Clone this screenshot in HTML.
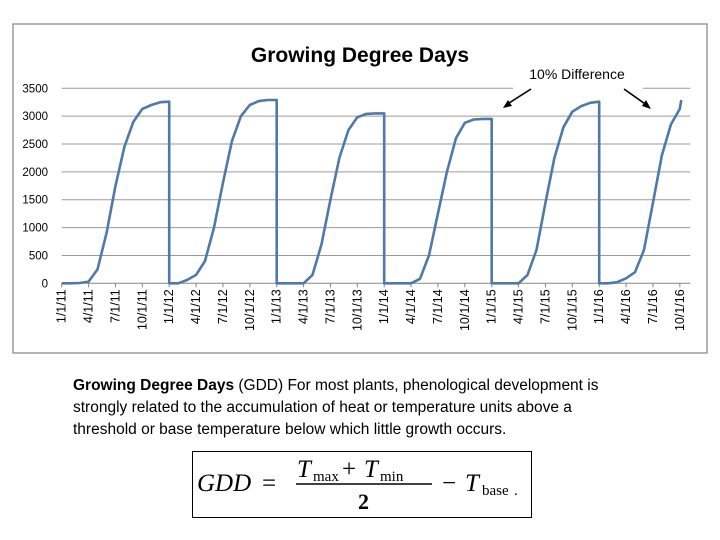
<!DOCTYPE html>
<html><head><meta charset="utf-8"><style>
html,body{margin:0;padding:0;background:#fff;}
body{width:720px;height:540px;position:relative;overflow:hidden;font-family:"Liberation Sans",sans-serif;}
#desc{position:absolute;left:73px;top:375px;width:640px;font-size:15.5px;line-height:22px;color:#000;white-space:nowrap;}
</style></head><body>
<svg id="chart" width="720" height="370" style="position:absolute;left:0;top:0" xmlns="http://www.w3.org/2000/svg">
<rect x="13" y="24" width="694" height="329" fill="#fff" stroke="#8c8c8c" stroke-width="1.3"/>
<text x="360" y="62" text-anchor="middle" font-family="Liberation Sans,sans-serif" font-weight="bold" font-size="21" fill="#000">Growing Degree Days</text>
<g id="grid"></g><g id="yt"></g><g id="xt"></g>
<path id="line" fill="none" stroke="#4f79a8" stroke-width="2.6" stroke-linejoin="round"/>
<rect x="513" y="82" width="130" height="12" fill="#fff"/>
<text x="577" y="79" text-anchor="middle" font-family="Liberation Sans,sans-serif" font-size="14" fill="#000">10% Difference</text>
<line x1="531" y1="89" x2="506" y2="105" stroke="#000" stroke-width="1.6"/>
<polygon points="503,108 508,100 512,106" fill="#000"/>
<line x1="624" y1="89" x2="648" y2="106" stroke="#000" stroke-width="1.6"/>
<polygon points="651,109 642,106 646,100" fill="#000"/>
</svg>
<div id="desc"><b>Growing Degree Days</b> (GDD) For most plants, phenological development is<br>strongly related to the accumulation of heat or temperature units above a<br>threshold or base temperature below which little growth occurs.</div>
<svg width="340" height="68" style="position:absolute;left:192px;top:451px" xmlns="http://www.w3.org/2000/svg" font-family="Liberation Serif,serif">
<rect x="0.5" y="0.5" width="339" height="66" fill="#fff" stroke="#000"/>
<text x="5" y="40" font-size="25" font-style="italic">GDD</text>
<text x="70" y="40" font-size="25">=</text>
<text x="105" y="26" font-size="25" font-style="italic">T</text><text x="121" y="30" font-size="15">max</text>
<text x="150" y="26" font-size="25">+</text>
<text x="172" y="26" font-size="25" font-style="italic">T</text><text x="188" y="30" font-size="15">min</text>
<line x1="104" y1="33" x2="240" y2="33" stroke="#000" stroke-width="1.5"/>
<text x="166" y="58" font-size="22" font-weight="bold">2</text>
<text x="250" y="40" font-size="25">−</text>
<text x="273" y="40" font-size="25" font-style="italic">T</text><text x="290" y="44" font-size="15">base</text>
<text x="322" y="44" font-size="15">.</text>
</svg>
<script>
const years=[2011,2012,2013,2014,2015,2016];
const gdd2011=[0,0,5,30,250,900,1750,2450,2900,3130,3200,3250,3260];
const gdd2012=[0,0,60,150,400,1000,1800,2550,3000,3200,3270,3290,3290];
const gdd2013=[0,0,0,0,150,700,1500,2250,2750,2980,3040,3050,3050];
const gdd2014=[0,0,0,0,80,500,1250,2000,2600,2880,2940,2950,2950];
const gdd2015=[0,0,0,0,150,600,1450,2250,2800,3080,3180,3240,3260];
const gdd2016=[0,0,20,90,200,600,1450,2300,2850,3130,3290];
const yTicks=[0,500,1000,1500,2000,2500,3000,3500];
const xLabels=["1/1/11","4/1/11","7/1/11","10/1/11","1/1/12","4/1/12","7/1/12","10/1/12","1/1/13","4/1/13","7/1/13","10/1/13","1/1/14","4/1/14","7/1/14","10/1/14","1/1/15","4/1/15","7/1/15","10/1/15","1/1/16","4/1/16","7/1/16","10/1/16"];
const X0=61.7,YW=107.5,Y0=283.3,YH=195;
const xs=t=>X0+t*YW, ys=v=>Y0-v/3500*YH;
const NS="http://www.w3.org/2000/svg";
const mk=(p,tag,a)=>{const e=document.createElementNS(NS,tag);for(const k in a)e.setAttribute(k,a[k]);document.getElementById(p).appendChild(e);return e;};
const xEnd=xs(5+10/12+5/365);
yTicks.forEach(v=>{
 const g=mk('grid','line',{x1:X0,x2:xEnd,y1:ys(v),y2:ys(v),stroke:v===0?'#868686':'#9a9a9a','stroke-width':1});
 
 
 const t=mk('yt','text',{x:48,y:ys(v)+4,'text-anchor':'end','font-size':11.5,'font-family':'Liberation Sans,sans-serif'});
 t.textContent=v;
 
 
});
xLabels.forEach((l,i)=>{
 const x=xs(i/4);
 const tk=mk('xt','line',{x1:x,x2:x,y1:Y0,y2:Y0+4,stroke:'#868686'});
 
 
 const t=mk('xt','text',{x:0,y:0,'text-anchor':'end','font-size':12.5,'font-family':'Liberation Sans,sans-serif',transform:`translate(${x+4},${Y0+6}) rotate(-90)`});
 t.textContent=l;
 
 
});
const series=[gdd2011,gdd2012,gdd2013,gdd2014,gdd2015,gdd2016];
let d='';
series.forEach((arr,yi)=>{
 arr.forEach((v,m)=>{
  let t=yi+m/12;
  if(yi===5&&m===arr.length-1)t=yi+(m-1)/12+5/365;
  d+=(d?'L':'M')+xs(t).toFixed(1)+','+ys(v).toFixed(1);
 });
});
document.getElementById('line').setAttribute('d',d);
</script>
</body></html>
